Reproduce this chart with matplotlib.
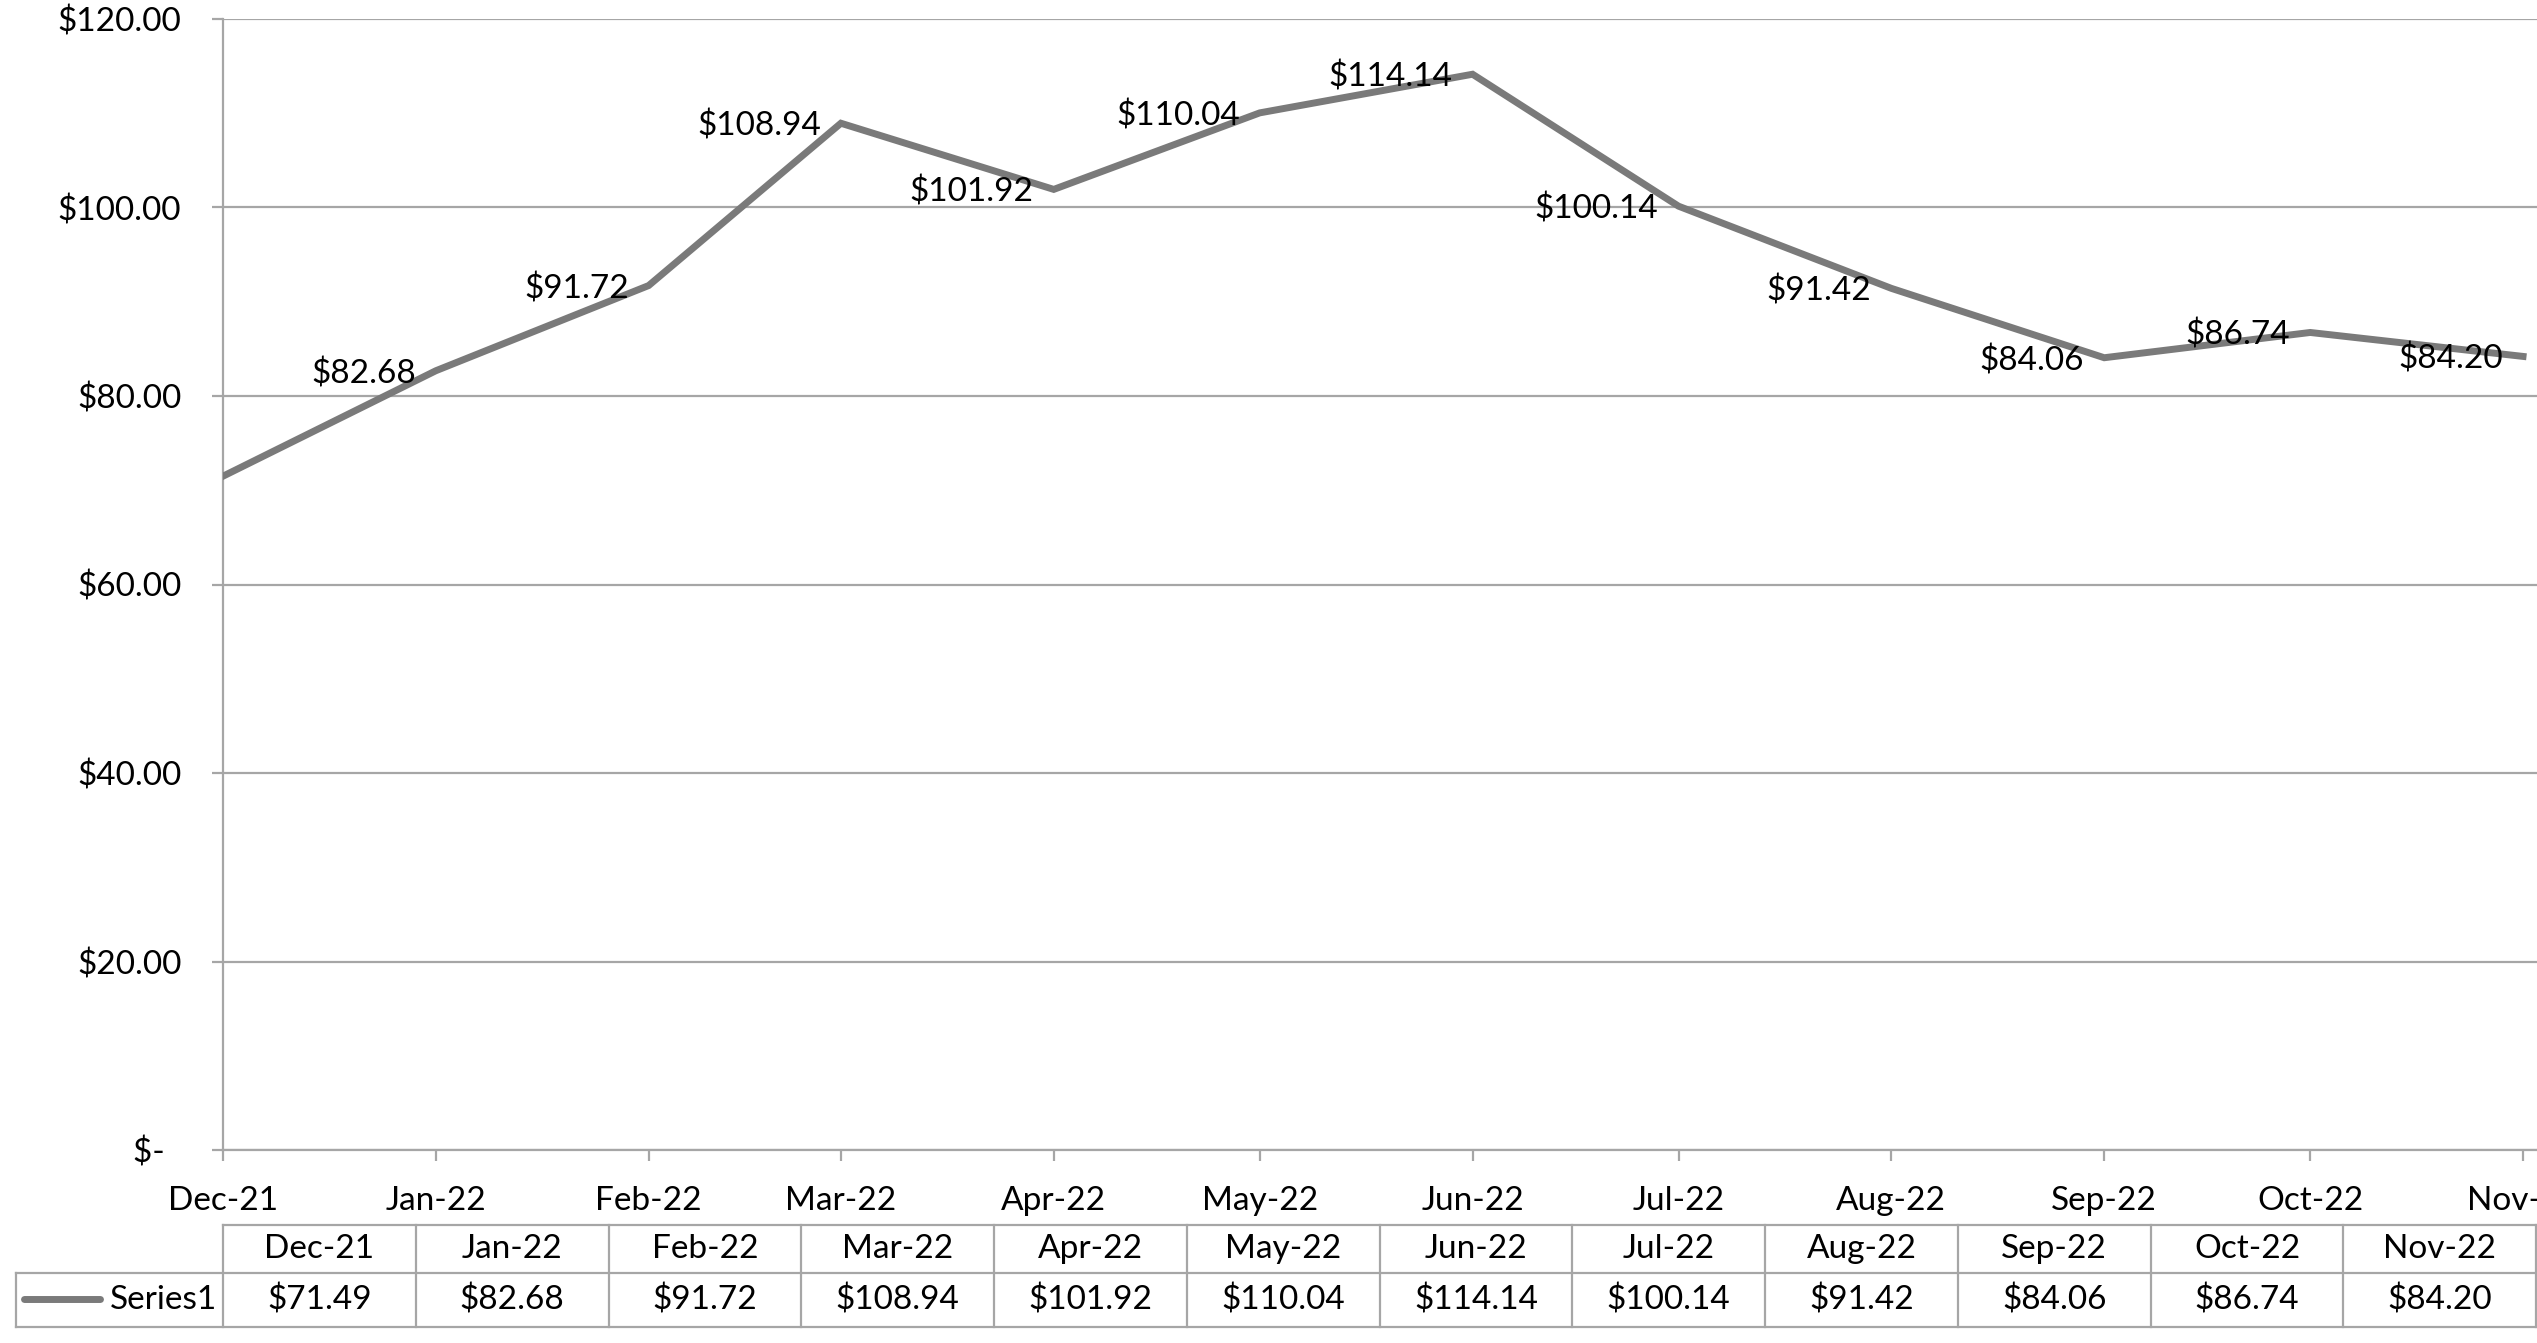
import matplotlib
matplotlib.use("Agg")
import matplotlib.pyplot as plt
import matplotlib.dates as mdates
import pandas as pd

# Monthly prices (Excel line chart with a data table)
months = ["Dec-21", "Jan-22", "Feb-22", "Mar-22", "Apr-22", "May-22",
          "Jun-22", "Jul-22", "Aug-22", "Sep-22", "Oct-22", "Nov-22"]
prices = [71.49, 82.68, 91.72, 108.94, 101.92, 110.04,
          114.14, 100.14, 91.42, 84.06, 86.74, 84.20]
series_name = "Series1"
y_ticks = [0, 20, 40, 60, 80, 100, 120]

W, H = 2537, 1343
LINE_GRAY = "#7a7a7a"
GRID_GRAY = "#a6a6a6"
FONT = "Lato"
FS = 24

plt.rcParams["font.family"] = [FONT, "DejaVu Sans"]

dates = pd.to_datetime(months, format="%b-%y")
xnum = mdates.date2num(dates)
x_start = mdates.date2num(pd.Timestamp("2021-12-01"))
x_end = mdates.date2num(pd.Timestamp("2022-12-01"))


def money(v):
    if v == 0:
        return "$-  "
    return f"${v:,.2f}"


fig = plt.figure(figsize=(W / 100, H / 100), dpi=100)
# axes runs past the right edge, like the cropped original
ax_left, ax_right = 223, 2729
ax_top, ax_bottom = 19, 1150
ax = fig.add_axes([ax_left / W, 1 - ax_bottom / H,
                   (ax_right - ax_left) / W, (ax_bottom - ax_top) / H])

ax.plot(xnum, prices, color=LINE_GRAY, lw=5, solid_joinstyle="miter", zorder=3)

# first point has no label in the original
for i in range(1, len(prices)):
    ax.annotate(money(prices[i]), (xnum[i], prices[i]), xytext=(-20, -3),
                textcoords="offset pixels", ha="right", va="center",
                fontsize=FS, color="black", zorder=4)

ax.set_xlim(x_start, x_end)
ax.set_ylim(0, 120)
ax.set_yticks(y_ticks)
ax.set_yticklabels([money(v) for v in y_ticks])
ax.set_xticks(xnum)
ax.set_xticklabels(months)
ax.grid(axis="y", color=GRID_GRAY, lw=1.6)
ax.set_axisbelow(True)

for s in ["top", "right"]:
    ax.spines[s].set_visible(False)
for s in ["left", "bottom"]:
    ax.spines[s].set_color(GRID_GRAY)
    ax.spines[s].set_linewidth(1.6)

ax.tick_params(axis="y", length=8, width=1.6, color=GRID_GRAY, pad=22, labelsize=FS)
ax.tick_params(axis="x", length=8, width=1.6, color=GRID_GRAY, pad=18, labelsize=FS)

# data table under the axis
n_cols = 13
col_w = (ax_right - ax_left) / n_cols
t_top, t_mid, t_bot = 1225, 1273, 1327
series_left = 16


def fx(px):
    return px / W


def fy(py):
    return 1 - py / H


lw_t = 1.6
fig.add_artist(plt.Line2D([fx(ax_left), fx(ax_right)], [fy(t_top)] * 2, color=GRID_GRAY, lw=lw_t))
fig.add_artist(plt.Line2D([fx(series_left), fx(ax_right)], [fy(t_mid)] * 2, color=GRID_GRAY, lw=lw_t))
fig.add_artist(plt.Line2D([fx(series_left), fx(ax_right)], [fy(t_bot)] * 2, color=GRID_GRAY, lw=lw_t))
fig.add_artist(plt.Line2D([fx(series_left)] * 2, [fy(t_mid), fy(t_bot)], color=GRID_GRAY, lw=lw_t))
for c in range(n_cols + 1):
    xc = ax_left + c * col_w
    fig.add_artist(plt.Line2D([fx(xc)] * 2, [fy(t_top), fy(t_bot)], color=GRID_GRAY, lw=lw_t))

for i, (m, p) in enumerate(zip(months, prices)):
    xc = ax_left + (i + 0.5) * col_w
    fig.text(fx(xc), fy((t_top + t_mid) / 2), m, ha="center", va="center", fontsize=FS)
    fig.text(fx(xc), fy((t_mid + t_bot) / 2), money(p), ha="center", va="center", fontsize=FS)

# legend key inside the series row
fig.add_artist(plt.Line2D([fx(24), fx(100)], [fy(1299)] * 2, color=LINE_GRAY, lw=5,
                          solid_capstyle="round"))
fig.text(fx(217), fy((t_mid + t_bot) / 2), series_name, ha="right", va="center", fontsize=FS)

fig.savefig("out.png", dpi=100)
